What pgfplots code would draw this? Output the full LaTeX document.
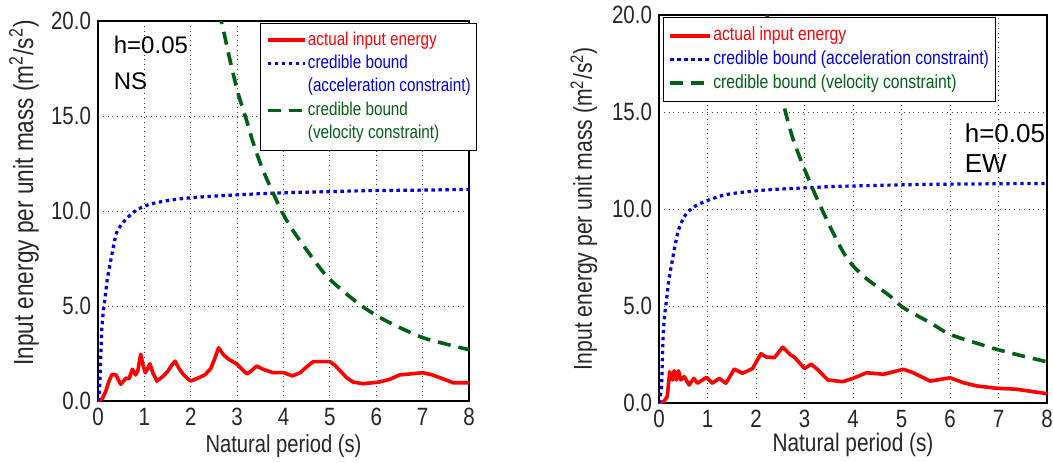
\documentclass[border=0pt]{standalone}
\usepackage{fontspec}
\setmainfont{Liberation Sans}[FakeStretch=0.82]
\newfontfamily\regfont{Liberation Sans}
\usepackage{pgfplots}
\pgfplotsset{compat=1.18}
\definecolor{cred}{RGB}{255,0,0}
\definecolor{cblue}{RGB}{0,0,230}
\definecolor{cgreen}{RGB}{0,95,20}
\pgfplotsset{
  limg/.style={legend image code/.code={\draw[##1] (0pt,0pt) -- (#1,0pt);}},
  eaxis/.style={
    scale only axis, anchor=south west,
    xmin=0, xmax=8, ymin=0, ymax=20,
    xtick={0,...,8}, ytick={0,5,10,15,20},
    grid=major, grid style={dotted, black!75, line width=0.5pt},
    major tick length=0pt,
    axis line style={line width=1pt},
    tick label style={font=\fontsize{12.5}{14}\selectfont, text=black!85},
    /pgf/number format/assume math mode=true,
    y tick label style={/pgf/number format/.cd, fixed, fixed zerofill, precision=1},
    legend cell align=left,
    clip mode=individual,
  },
  redst/.style={cred, line width=1.8pt, line join=round},
  bluest/.style={cblue, line width=1.6pt, dash pattern=on 1.7pt off 1.8pt},
  greenst/.style={cgreen, line width=1.8pt, dash pattern=on 6.5pt off 4pt},
}
\begin{document}
\begin{tikzpicture}
\useasboundingbox (0,0) rectangle (526.5pt,231pt);
% ---------------- NS ----------------
\begin{axis}[eaxis, at={(49pt,30.5pt)}, width=185.5pt, height=190pt,
  xlabel={Natural period (s)},
  ylabel={Input energy per unit mass (m\textsuperscript{2}/s\textsuperscript{2})},
  xlabel style={at={(axis description cs:0.5,-0.136)}, anchor=base, font=\fontsize{12.3}{14}\selectfont, text=black!85},
  ylabel style={at={(axis description cs:-0.175,0.547)}, anchor=base, font=\fontsize{13.8}{16}\selectfont, text=black!85},
  legend style={at={(axis description cs:0.437,0.995)}, anchor=north west, draw=black, line width=0.6pt, fill=white,
    inner xsep=2.5pt, inner ysep=3pt, font=\fontsize{9.3}{11}\selectfont, row sep=1pt,
    nodes={inner sep=0.6pt, text height=7.2pt, text depth=2.3pt},
    /tikz/every even column/.append style={column sep=0pt}},
]
\addplot[redst, limg=18.7pt] coordinates {
(0,0) (0.05,0.05) (0.1,0.15) (0.17,0.53) (0.23,1.0) (0.3,1.4) (0.39,1.37) (0.44,1.1) (0.49,0.88) (0.55,1.05) (0.6,1.2) (0.67,1.18) (0.74,1.67) (0.81,1.37) (0.86,1.6) (0.92,2.46) (0.97,1.9) (1.02,1.49) (1.07,1.7) (1.12,1.96) (1.18,1.5) (1.27,1.05) (1.35,1.2) (1.41,1.32) (1.5,1.55) (1.58,1.85) (1.66,2.1) (1.75,1.7) (1.84,1.4) (1.92,1.2) (2.0,1.05) (2.15,1.2) (2.3,1.37) (2.43,1.7) (2.52,2.25) (2.6,2.8) (2.7,2.45) (2.82,2.19) (2.92,2.05) (3.0,1.93) (3.1,1.68) (3.21,1.42) (3.32,1.62) (3.42,1.84) (3.56,1.67) (3.77,1.49) (4.01,1.49) (4.19,1.32) (4.36,1.49) (4.5,1.8) (4.64,2.07) (5.0,2.07) (5.1,1.9) (5.36,1.23) (5.5,1.0) (5.71,0.91) (6.07,1.0) (6.3,1.15) (6.5,1.37) (7.0,1.49) (7.2,1.38) (7.37,1.23) (7.66,0.96) (8.0,0.96)
};
\addlegendentry{\textcolor{cred}{actual input energy}}
\addplot[bluest, smooth, limg=18.7pt] coordinates {
(0,0) (0.02,0.3) (0.04,0.9) (0.06,2.3) (0.08,3.7) (0.11,4.6) (0.15,5.4) (0.2,6.4) (0.26,7.2) (0.33,8.1) (0.4,8.85) (0.51,9.3) (0.6,9.55) (0.7,9.8) (0.83,10.05) (1.0,10.25) (1.19,10.4) (1.5,10.55) (1.84,10.66) (2.3,10.75) (2.92,10.84) (3.5,10.91) (4.0,10.96) (5.0,11.02) (5.79,11.07) (7.0,11.1) (8.0,11.14)
};
\addlegendentry{\textcolor{cblue}{credible bound}}
\addlegendimage{empty legend}
\addlegendentry{\textcolor{cblue}{(acceleration constraint)}}
\addplot[greenst, smooth, limg=18.7pt] coordinates {
(2.6,20.5) (2.69,19.67) (2.85,17.9) (3.02,16.2) (3.2,14.8) (3.35,13.56) (3.55,12.2) (3.78,10.93) (4.0,9.8) (4.21,8.95) (4.5,7.95) (4.78,7.02) (5.0,6.4) (5.4,5.55) (5.79,4.83) (6.15,4.3) (6.51,3.86) (7.01,3.33) (7.5,3.0) (8.0,2.7)
};
\addlegendentry{\textcolor{cgreen}{credible bound}}
\addlegendimage{empty legend}
\addlegendentry{\textcolor{cgreen}{(velocity constraint)}}
\node[anchor=base west, font=\regfont\fontsize{12}{14}\selectfont] at (axis cs:0.19,18.3) {h=0.05};
\node[anchor=base west, font=\regfont\fontsize{12}{14}\selectfont] at (axis cs:0.19,16.4) {NS};
\end{axis}
% ---------------- EW ----------------
\begin{axis}[eaxis, at={(329.5pt,29.5pt)}, width=194pt, height=194pt,
  xlabel={Natural period (s)},
  ylabel={Input energy per unit mass (m\textsuperscript{2}/s\textsuperscript{2})},
  xlabel style={at={(axis description cs:0.5,-0.1255)}, anchor=base, font=\fontsize{12.7}{14}\selectfont, text=black!85},
  ylabel style={at={(axis description cs:-0.173,0.501)}, anchor=base, font=\fontsize{12.9}{15}\selectfont, text=black!85},
  legend style={at={(axis description cs:0.01,0.995)}, anchor=north west, draw=black, line width=0.6pt, fill=white,
    inner xsep=2.5pt, inner ysep=3.5pt, font=\fontsize{9.6}{11}\selectfont, row sep=0.5pt,
    nodes={inner sep=0.6pt, text height=7.6pt, text depth=2.5pt},
    /tikz/every even column/.append style={column sep=0pt}},
]
\addplot[redst, limg=20pt] coordinates {
(0,0) (0.1,0.08) (0.17,0.34) (0.22,1.61) (0.28,1.19) (0.31,1.66) (0.36,1.19) (0.4,1.66) (0.45,1.19) (0.52,1.36) (0.62,0.93) (0.72,1.27) (0.79,1.02) (0.9,1.19) (0.98,1.32) (1.1,1.02) (1.24,1.27) (1.38,1.02) (1.48,1.44) (1.55,1.75) (1.72,1.53) (1.93,1.78) (2.1,2.54) (2.21,2.37) (2.38,2.34) (2.55,2.88) (2.72,2.46) (2.79,2.37) (3.0,1.78) (3.14,2.0) (3.28,1.7) (3.48,1.19) (3.79,1.1) (4.0,1.27) (4.28,1.56) (4.63,1.48) (5.04,1.74) (5.24,1.56) (5.59,1.13) (6.0,1.3) (6.27,1.05) (6.55,0.88) (6.96,0.76) (7.37,0.71) (8.0,0.48)
};
\addlegendentry{\textcolor{cred}{actual input energy}}
\addplot[bluest, smooth, limg=20pt] coordinates {
(0,0) (0.02,0.3) (0.05,0.8) (0.07,2.3) (0.09,3.7) (0.12,4.6) (0.16,5.43) (0.2,6.3) (0.26,7.15) (0.33,8.1) (0.4,8.9) (0.48,9.4) (0.57,9.78) (0.78,10.2) (1.12,10.55) (1.4,10.75) (1.81,10.89) (2.3,11.0) (2.84,11.07) (3.5,11.15) (4.21,11.2) (5.59,11.27) (8.0,11.32)
};
\addlegendentry{\textcolor{cblue}{credible bound (acceleration constraint)}}
\addplot[greenst, smooth, limg=20pt] coordinates {
(2.2,20.5) (2.35,18.0) (2.53,15.79) (2.77,13.56) (3.15,11.15) (3.56,8.92) (3.87,7.49) (4.21,6.55) (4.76,5.52) (5.04,4.91) (5.59,4.14) (6.0,3.54) (6.62,3.03) (6.96,2.77) (7.5,2.42) (7.99,2.13)
};
\addlegendentry{\textcolor{cgreen}{credible bound (velocity constraint)}}
\node[anchor=base west, font=\regfont\fontsize{13}{15}\selectfont] at (axis cs:6.16,13.45) {h=0.05};
\node[anchor=base west, font=\regfont\fontsize{13}{15}\selectfont] at (axis cs:6.16,11.86) {EW};
\end{axis}
\end{tikzpicture}
\end{document}
